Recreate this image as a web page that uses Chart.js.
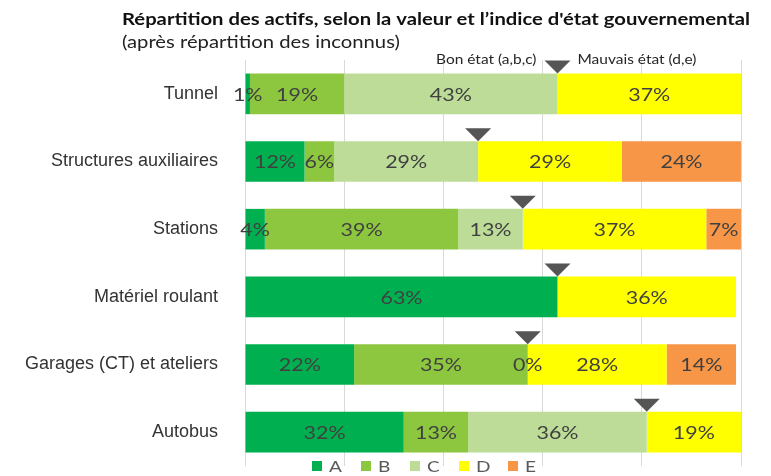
<!DOCTYPE html>
<html>
<head>
<meta charset="utf-8">
<script src="https://cdn.jsdelivr.net/npm/chart.js@4.4.0/dist/chart.umd.min.js"></script>
<style>
  html, body { margin: 0; padding: 0; background: #fff; overflow: hidden; }
  canvas { display: block; }
</style>
</head>
<body>
<canvas id="etatChart" width="771" height="476"></canvas>
<script>
// Données du graphique (en %)
const categories = ['Tunnel', 'Structures auxiliaires', 'Stations', 'Matériel roulant', 'Garages (CT) et ateliers', 'Autobus'];
const seriesNames = ['A', 'B', 'C', 'D', 'E'];
const valA = [1, 12, 4, 63, 22, 32];
const valB = [19, 6, 39, null, 35, 13];
const valC = [43, 29, 13, null, 0, 36];
const valD = [37, 29, 37, 36, 28, 19];
const valE = [null, 24, 7, null, 14, null];
const seriesColors = ['#00b050', '#8dc63f', '#bddc98', '#ffff00', '#f79646'];
const xTicks = [0, 20, 40, 60, 80, 100];

const titre = 'Répartition des actifs, selon la valeur et l\u2019indice d\'état gouvernemental';
const sousTitre = '(après répartition des inconnus)';

const dataSets = [valA, valB, valC, valD, valE].map(function(vals, i) {
    return {
        label: seriesNames[i],
        data: vals,
        backgroundColor: seriesColors[i],
        borderWidth: 0,
        categoryPercentage: 1,
        barPercentage: 0.6
    };
});

// le texte de l'original est un peu étiré horizontalement
const SX = 1.19;
function stretchText(ctx, txt, x, y, align) {
    ctx.save();
    ctx.translate(x, y);
    ctx.scale(SX, 1);
    ctx.textAlign = align;
    ctx.fillText(txt, 0, 0);
    ctx.restore();
}

// Titre + sous-titre
const titrePlugin = {
    id: 'titrePlugin',
    afterDraw(chart) {
        const ctx = chart.ctx;
        ctx.save();
        ctx.textBaseline = 'middle';
        ctx.fillStyle = '#111';
        ctx.font = 'bold 17px Lato';
        stretchText(ctx, titre, 122, 20, 'left');
        ctx.fillStyle = '#222';
        ctx.font = '17px Lato';
        stretchText(ctx, sousTitre, 122, 43, 'left');
        ctx.restore();
    }
};

// Étiquettes en % au centre de chaque segment
const valueLabels = {
    id: 'valueLabels',
    afterDatasetsDraw(chart) {
        const ctx = chart.ctx;
        ctx.save();
        ctx.font = '18px Lato';
        ctx.fillStyle = '#404040';
        ctx.textBaseline = 'middle';
        chart.data.datasets.forEach(function(ds, d) {
            const meta = chart.getDatasetMeta(d);
            meta.data.forEach(function(bar, i) {
                const v = ds.data[i];
                if (v === null || v === undefined) return;
                stretchText(ctx, v + '%', (bar.x + bar.base) / 2, bar.y + 1, 'center');
            });
        });
        ctx.restore();
    }
};

// Triangles à la limite bon état / mauvais état
const seuilMarkers = {
    id: 'seuilMarkers',
    afterDatasetsDraw(chart) {
        const ctx = chart.ctx;
        const xs = chart.scales.x;
        const meta = chart.getDatasetMeta(0);
        ctx.save();
        categories.forEach(function(c, i) {
            const bon = (valA[i] || 0) + (valB[i] || 0) + (valC[i] || 0);
            const x = xs.getPixelForValue(bon);
            const bar = meta.data[i];
            const top = bar.y - bar.height / 2;
            ctx.fillStyle = '#555555';
            ctx.beginPath();
            ctx.moveTo(x - 13, top - 13);
            ctx.lineTo(x + 13, top - 13);
            ctx.lineTo(x, top);
            ctx.closePath();
            ctx.fill();
            if (i === 0) {
                ctx.font = '13px Lato';
                ctx.fillStyle = '#262626';
                ctx.textBaseline = 'middle';
                stretchText(ctx, 'Bon état (a,b,c)', x - 21, top - 14, 'right');
                stretchText(ctx, 'Mauvais état (d,e)', x + 20, top - 14, 'left');
            }
        });
        ctx.restore();
    }
};

// Légende en bas, dessinée à partir des datasets
const bottomLegend = {
    id: 'bottomLegend',
    afterDraw(chart) {
        const ctx = chart.ctx;
        const step = 49;
        const x0 = 312;
        const y = 466;
        ctx.save();
        ctx.font = '16px Lato';
        ctx.textBaseline = 'middle';
        chart.data.datasets.forEach(function(ds, i) {
            const x = x0 + i * step;
            ctx.fillStyle = ds.backgroundColor;
            ctx.fillRect(x, y - 5, 10, 10);
            ctx.fillStyle = '#595959';
            stretchText(ctx, ds.label, x + 17, y + 1, 'left');
        });
        ctx.restore();
    }
};

new Chart(document.getElementById('etatChart').getContext('2d'), {
    type: 'bar',
    data: {
        labels: categories,
        datasets: dataSets
    },
    options: {
        indexAxis: 'y',
        responsive: false,
        animation: false,
        layout: {
            autoPadding: false,
            padding: { left: 10, right: 30, top: 60, bottom: 10 }
        },
        plugins: {
            legend: { display: false },
            tooltip: { enabled: false },
            title: { display: false }
        },
        scales: {
            x: {
                stacked: true,
                min: 0,
                max: 100,
                afterBuildTicks: function(scale) {
                    scale.ticks = xTicks.map(function(v) { return { value: v }; });
                },
                afterFit: function(scale) { scale.height = 0; },
                ticks: { display: false },
                grid: { color: '#d9d9d9', drawTicks: false },
                border: { display: false }
            },
            y: {
                stacked: true,
                afterFit: function(scale) {
                    scale.width = 235;
                    scale.paddingTop = 0;
                    scale.paddingBottom = 0;
                },
                ticks: {
                    color: '#333',
                    font: { family: 'Liberation Sans', size: 18 },
                    padding: 27
                },
                grid: { display: false, drawTicks: false },
                border: { display: false }
            }
        }
    },
    plugins: [valueLabels, seuilMarkers, titrePlugin, bottomLegend]
});
</script>
</body>
</html>
